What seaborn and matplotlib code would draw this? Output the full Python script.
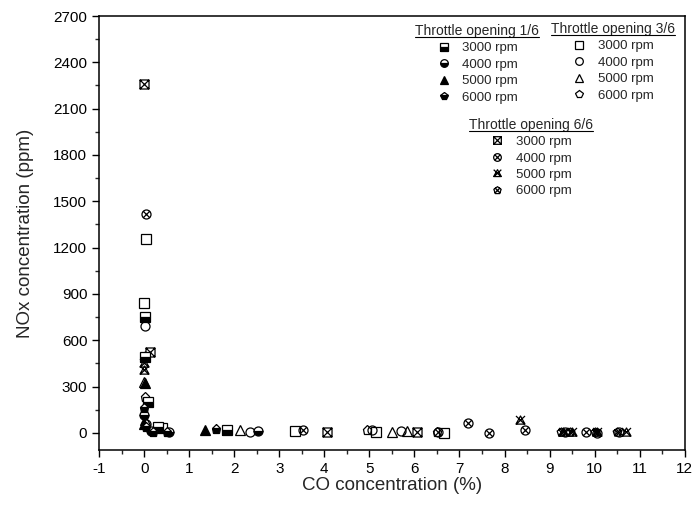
import numpy as np
import pandas as pd
import seaborn as sns
import matplotlib
matplotlib.use("Agg")
import matplotlib.pyplot as plt
from matplotlib.path import Path
from matplotlib.lines import Line2D
from matplotlib.ticker import MultipleLocator

# ---- data: CO (%) vs NOx (ppm) by throttle opening and engine speed ----
rpm_labels = ["3000 rpm", "4000 rpm", "5000 rpm", "6000 rpm"]
throttle_titles = ["Throttle opening 1/6", "Throttle opening 3/6", "Throttle opening 6/6"]

# throttle opening 1/6
t1_3000_co = [0.03, 0.02, 0.08, 0.30, 1.84]
t1_3000_nox = [750, 490, 200, 35, 20]
t1_4000_co = [0.00, 0.15, 0.55, 2.53]
t1_4000_nox = [117, 10, 8, 12]
t1_5000_co = [0.02, 0.00, 1.35]
t1_5000_nox = [320, 60, 20]
t1_6000_co = [0.00, 0.05, 0.20, 0.50, 1.60]
t1_6000_nox = [160, 40, 5, 5, 25]

# throttle opening 3/6
t3_3000_co = [0.05, 0.00, 0.40, 3.35, 5.15, 6.65]
t3_3000_nox = [1255, 840, 30, 10, 5, 0]
t3_4000_co = [0.03, 0.05, 2.35, 5.05, 5.70]
t3_4000_nox = [690, 55, 8, 15, 10]
t3_5000_co = [0.00, 0.02, 2.13, 5.50, 5.83]
t3_5000_nox = [330, 80, 18, 8, 10]
t3_6000_co = [0.03, 4.95, 6.50]
t3_6000_nox = [230, 15, 5]

# throttle opening 6/6
t6_3000_co = [0.00, 0.12, 4.05, 6.05]
t6_3000_nox = [2260, 526, 8, 8]
t6_4000_co = [0.04, 3.52, 6.52, 7.20, 7.65, 8.45, 9.35, 9.80, 10.05, 10.55]
t6_4000_nox = [1415, 15, 3, 65, 0, 20, 5, 3, 2, 3]
t6_5000_co = [0.00, 0.00, 8.35, 9.30, 9.50, 10.05, 10.70]
t6_5000_nox = [450, 410, 85, 8, 5, 5, 3]
t6_6000_co = [0.02, 9.25, 9.45, 10.00, 10.50]
t6_6000_nox = [500, 5, 3, 5, 3]


# ---- crossed marker shapes ----
def crossed(outline, a=0.72):
    x_lines = Path([(-a, -a), (a, a), (-a, a), (a, -a)],
                   [Path.MOVETO, Path.LINETO, Path.MOVETO, Path.LINETO])
    return Path.make_compound_path(outline, x_lines)


square = Path([(-1, -1), (1, -1), (1, 1), (-1, 1), (-1, -1)],
              [Path.MOVETO, Path.LINETO, Path.LINETO, Path.LINETO, Path.CLOSEPOLY])
tri = Path([(0, 1), (-1, -0.8), (1, -0.8), (0, 1)],
           [Path.MOVETO, Path.LINETO, Path.LINETO, Path.CLOSEPOLY])
ang = np.pi / 2 + np.arange(5) * 2 * np.pi / 5
pent = Path(np.vstack([np.c_[np.cos(ang), np.sin(ang)], [[0, 1]]]),
            [Path.MOVETO] + [Path.LINETO] * 4 + [Path.CLOSEPOLY])

sq_x = crossed(square, 1.0)
circ_x = crossed(Path.unit_circle(), 0.707)
tri_x = Path.make_compound_path(
    tri, Path([(-1.0, 1.0), (0.9, -0.8), (1.0, 1.0), (-0.9, -0.8)],
              [Path.MOVETO, Path.LINETO, Path.MOVETO, Path.LINETO]))
pent_x = crossed(pent, 0.7)

MS = 6.5
styles = {
    "t1": [dict(marker="s", fillstyle="bottom"), dict(marker="o", fillstyle="bottom"),
           dict(marker="^", fillstyle="full"), dict(marker="p", fillstyle="bottom")],
    "t3": [dict(marker="s", fillstyle="none"), dict(marker="o", fillstyle="none"),
           dict(marker="^", fillstyle="none"), dict(marker="p", fillstyle="none")],
    "t6": [dict(marker=sq_x, fillstyle="none"), dict(marker=circ_x, fillstyle="none"),
           dict(marker=tri_x, fillstyle="none"), dict(marker=pent_x, fillstyle="none")],
}
series = {
    "t1": [(t1_3000_co, t1_3000_nox), (t1_4000_co, t1_4000_nox),
           (t1_5000_co, t1_5000_nox), (t1_6000_co, t1_6000_nox)],
    "t3": [(t3_3000_co, t3_3000_nox), (t3_4000_co, t3_4000_nox),
           (t3_5000_co, t3_5000_nox), (t3_6000_co, t3_6000_nox)],
    "t6": [(t6_3000_co, t6_3000_nox), (t6_4000_co, t6_4000_nox),
           (t6_5000_co, t6_5000_nox), (t6_6000_co, t6_6000_nox)],
}


def mstyle(st, size=MS):
    kw = dict(markersize=size, markeredgecolor="black", markeredgewidth=0.9,
              color="black", markerfacecoloralt="white")
    kw.update(st)
    if st["fillstyle"] == "none":
        kw["markerfacecolor"] = "none"
    else:
        kw["markerfacecolor"] = "black"
    return kw


sns.set_style("ticks")
plt.rcParams["font.family"] = ["Liberation Sans", "DejaVu Sans"]
plt.rcParams["axes.unicode_minus"] = False

fig = plt.figure(figsize=(6.93, 5.17), dpi=100)
ax = fig.add_axes([0.143, 0.130, 0.845, 0.839])

for key in ["t6", "t3", "t1"]:
    for (co, nox), st in zip(series[key], styles[key]):
        df = pd.DataFrame({"co": co, "nox": nox})
        sns.lineplot(data=df, x="co", y="nox", ax=ax, estimator=None, sort=False,
                     linestyle="none", legend=False, **mstyle(st))

ax.set_xlim(-1, 12)
ax.set_ylim(-110, 2700)
ax.xaxis.set_major_locator(MultipleLocator(1))
ax.xaxis.set_minor_locator(MultipleLocator(0.5))
ax.yaxis.set_major_locator(MultipleLocator(300))
ax.yaxis.set_minor_locator(MultipleLocator(150))
ax.tick_params(which="major", direction="out", length=5, width=1, labelsize=11,
               top=False, right=False, colors="black")
ax.tick_params(which="minor", direction="out", length=3, width=1,
               top=False, right=False)
for sp in ax.spines.values():
    sp.set_visible(True)
    sp.set_linewidth(1.1)
    sp.set_color("black")
ax.set_xlabel("CO concentration (%)", fontsize=13.5, labelpad=1)
ax.set_ylabel("NOx concentration (ppm)", fontsize=13.5, labelpad=14)

# ---- three legends, one per throttle opening ----
anchors = {"t1": (0.646, 1.003), "t3": (0.878, 1.008), "t6": (0.738, 0.787)}
legends = []
for key, title in zip(["t1", "t3", "t6"], throttle_titles):
    handles = [Line2D([], [], linestyle="none", **mstyle(st, 5.5)) for st in styles[key]]
    leg = ax.legend(handles, rpm_labels, title=title, loc="upper center",
                    bbox_to_anchor=anchors[key], frameon=False, fontsize=9.5,
                    title_fontsize=10, handlelength=1.0, handletextpad=0.9,
                    labelspacing=0.32, borderpad=0.2)
    legends.append(leg)
for leg in legends[:-1]:
    ax.add_artist(leg)

# underline the legend titles
fig.canvas.draw()
inv = fig.transFigure.inverted()
for leg in legends:
    bb = leg.get_title().get_window_extent()
    (x0, y0), (x1, _) = inv.transform([(bb.x0, bb.y0), (bb.x1, bb.y1)])
    fig.add_artist(Line2D([x0, x1], [y0 + 0.002, y0 + 0.002],
                          color="black", linewidth=0.8))

fig.savefig("out.png", dpi=100)
